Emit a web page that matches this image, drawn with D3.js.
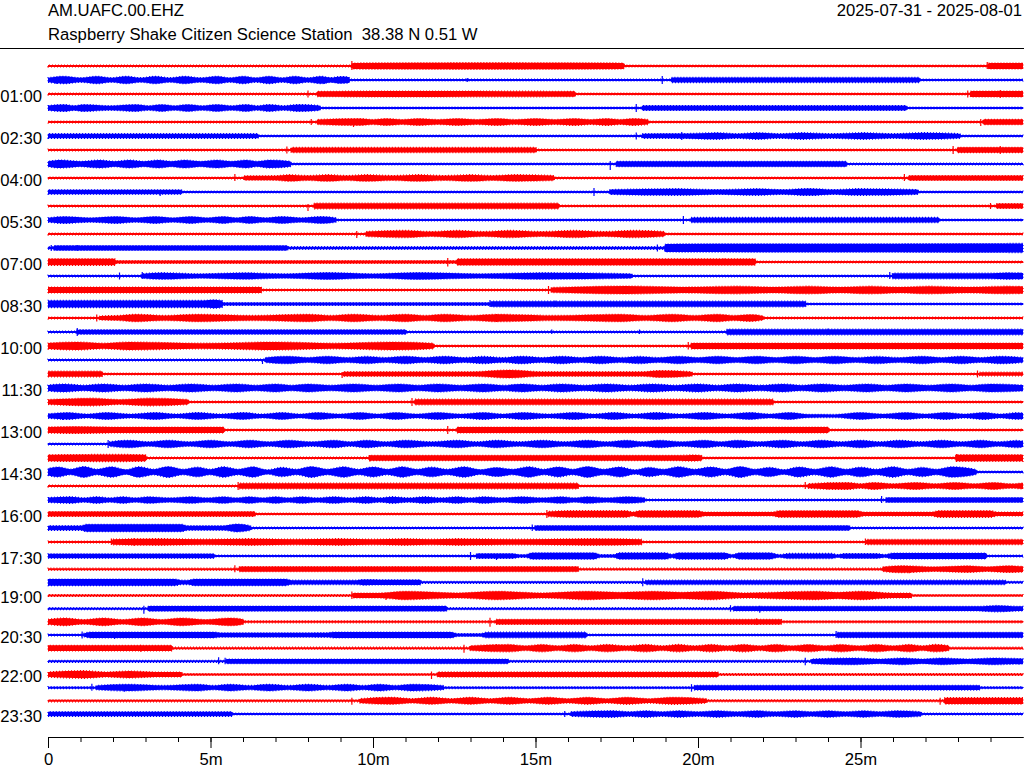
<!DOCTYPE html>
<html>
<head>
<meta charset="utf-8">
<script src="https://cdn.jsdelivr.net/npm/d3@7"></script>
<style>
  body { margin: 0; background: #fff; }
  svg { display: block; }
  text { font-family: 'Liberation Sans', Arial, sans-serif; white-space: pre; }
</style>
</head>
<body>
<div id="vis"></div>
<script>
// station info
var stationCode = 'AM.UAFC.00.EHZ';
var stationName = 'Raspberry Shake Citizen Science Station  38.38 N 0.51 W';
var dateRange = '2025-07-31 - 2025-08-01';

// left labels, one every 3 rows (30 min per row)
var labelRows = [2, 5, 8, 11, 14, 17, 20, 23, 26, 29, 32, 35, 38, 41, 44, 47];
var labelTexts = ['01:00', '02:30', '04:00', '05:30', '07:00', '08:30', '10:00', '11:30',
                  '13:00', '14:30', '16:00', '17:30', '19:00', '20:30', '22:00', '23:30'];

// bottom axis
var majorTicks = [0, 5, 10, 15, 20, 25];
var majorLabels = ['0', '5m', '10m', '15m', '20m', '25m'];
var minorTicks = [0, 1, 2, 3, 4, 5, 6, 7, 8, 9, 10, 11, 12, 13, 14, 15, 16, 17, 18, 19,
                  20, 21, 22, 23, 24, 25, 26, 27, 28, 29];

// envelope of each trace: [minute, half amplitude]
var envelopes = [
  [[0,1],[9.3,1],[9.4,3],[13.5,3.3],[17.7,3],[17.75,1],[28.9,1],[28.95,3],[30,3]],
  [[0,2.3],[0.5,3.7],[1.0,2.3],[1.5,3.7],[1.95,2.3],[2.4,3.7],[2.85,2.3],[3.3,3.7],[3.75,2.3],[4.2,3.7],[4.7,2.3],[5.2,3.7],[5.6,2.3],[6.0,3.7],[6.4,2.3],[6.8,3.7],[7.2,2.3],[7.6,3.7],[8.0,2.3],[8.4,3.7],[8.7,2.4],[9.0,3.5],[9.25,3],[9.3,1],[19.15,1],[19.2,2.6],[26.8,2.6],[26.85,1],[30,1]],
  [[0,1],[8.25,1],[8.3,2.7],[12,2.9],[16.2,2.7],[16.25,1],[28.35,1],[28.4,3],[30,3]],
  [[0,2.4],[0.5,3.5],[0.8,2.4],[1.1,3.5],[1.9,2.3],[2.7,3.5],[3.1,2.3],[3.5,3.5],[3.9,2.3],[4.3,3.5],[4.75,2.3],[5.2,3.5],[5.65,2.3],[6.1,3.5],[6.45,2.3],[6.8,3.5],[7.25,2.3],[7.7,3.5],[8.35,2.4],[8.4,1],[18.25,1],[18.3,2.4],[26.4,2.4],[26.45,1],[30,1]],
  [[0,1],[8.25,1],[8.3,2.5],[9.6,3.5],[10.0,2.5],[10.4,3.5],[10.9,2.5],[11.4,3.5],[12.0,2.5],[12.6,3.5],[13.2,2.5],[13.8,3.5],[14.4,2.5],[15.0,3.5],[15.6,2.5],[16.2,3.5],[16.7,2.5],[17.2,3.5],[17.6,2.5],[18.0,3.4],[18.45,2.6],[18.5,1],[28.75,1],[28.8,2.7],[30,2.7]],
  [[0,2.3],[6.45,2.3],[6.5,1],[18.25,1],[18.3,2.3],[19.5,2.4],[20.6,3.3],[21.2,2.3],[21.8,3.3],[22.5,2.3],[23.2,3.3],[24.1,2.3],[25.1,3.3],[26.0,2.3],[26.9,3.3],[28.05,2.3],[28.1,1],[30,1]],
  [[0,1],[7.45,1],[7.5,2.6],[15.0,2.6],[15.05,1],[27.95,1],[28.0,2.7],[30,2.7]],
  [[0,2.7],[0.4,4],[1.0,2.7],[1.6,4],[2.05,2.7],[2.5,4],[2.95,2.7],[3.4,4],[3.8,2.7],[4.2,4],[4.7,2.7],[5.2,4],[5.65,2.7],[6.1,4],[6.45,2.7],[6.8,4],[7.45,2.7],[7.5,1],[17.45,1],[17.5,2.7],[24.55,2.7],[24.6,1],[30,1]],
  [[0,1],[6.0,1],[6.05,2.2],[7.0,2.3],[7.4,3.3],[8.0,2.5],[8.6,3.3],[9.2,2.5],[9.8,3.3],[10.6,2.5],[11.4,3.3],[12.2,2.5],[13.0,3.3],[13.7,2.5],[14.4,3.3],[15.55,2.5],[15.6,1],[26.45,1],[26.5,2.5],[30,2.5]],
  [[0,2.2],[4.1,2.2],[4.15,1],[17.25,1],[17.3,2.4],[19.4,3.3],[20.6,2.4],[21.8,3.3],[22.6,2.4],[23.4,3.5],[24.2,2.4],[24.9,3.3],[26.75,2.4],[26.8,1],[30,1]],
  [[0,1],[8.15,1],[8.2,2.8],[15.7,2.8],[15.75,1],[29.15,1],[29.2,2.5],[30,2.5]],
  [[0,2.2],[0.5,3.4],[1.3,2.2],[2.1,3.4],[2.7,2.2],[3.3,3.4],[3.85,2.2],[4.4,3.4],[4.9,2.2],[5.4,3.4],[5.8,2.2],[6.2,3.4],[6.7,2.2],[7.2,3.4],[7.8,2.2],[8.4,3.4],[8.85,2.2],[8.9,1],[19.75,1],[19.8,2.6],[27.4,2.6],[27.45,1],[30,1]],
  [[0,1],[9.75,1],[9.8,2.5],[11.0,3.6],[11.8,2.5],[12.6,3.6],[13.4,2.5],[14.2,3.6],[15.2,2.5],[16.2,3.6],[17.1,2.5],[18.0,3.6],[18.95,2.5],[19.0,1],[30,1]],
  [[0,1.2],[0.15,1.2],[0.2,2.5],[7.35,2.5],[7.4,1.3],[18.95,1.3],[19.0,4.0],[24,4.2],[28.5,4.4],[30,4.6]],
  [[0,3.3],[2.05,3.3],[2.1,1.4],[12.55,1.4],[12.6,3.2],[21.75,3.2],[21.8,1],[30,1]],
  [[0,1],[2.85,1],[2.9,2.2],[3.5,3.3],[4.7,2.2],[6.0,3.2],[7.3,2.2],[8.6,3.4],[10.0,2.2],[11.4,3.4],[13.3,2.2],[15.2,3.3],[17.95,2.2],[18.0,1],[25.95,1],[26.0,2.8],[29.0,2.8],[29.5,3.3],[30,2.9]],
  [[0,3],[6.55,3],[6.6,1],[15.45,1],[15.5,2.5],[16.1,3.0],[17.8,4],[19.5,3.0],[21.2,3.8],[22.3,3.0],[23.4,3.8],[24.35,3.0],[25.3,3.8],[26.2,3.0],[27.1,3.8],[28.3,3.0],[29.5,3.8],[30,3.4]],
  [[0,3.6],[4.8,3.6],[5.1,4.2],[5.35,3.6],[5.4,1.5],[13.6,1.4],[13.65,2.8],[23.3,2.8],[23.35,1],[30,1]],
  [[0,1],[1.55,1],[1.6,2.0],[2.2,2.6],[2.7,3.7],[3.6,2.6],[4.6,3.7],[6.3,2.6],[8.0,3.7],[8.7,2.6],[9.4,3.7],[10.2,2.6],[11.0,3.7],[11.6,2.6],[12.2,3.7],[13.0,2.6],[13.8,3.7],[15.7,2.6],[17.6,3.7],[18.4,2.6],[19.2,3.7],[19.9,2.6],[20.6,3.7],[21.1,2.6],[21.6,3.4],[22.0,2.0],[22.05,1],[30,1]],
  [[0,1],[0.85,1],[0.9,2.3],[11.0,2.3],[11.05,1],[20.85,1],[20.9,2.8],[30,2.8]],
  [[0,3.0],[0.9,4],[1.7,2.8],[2.5,4],[4.7,2.8],[7.0,4],[8.8,2.8],[10.6,4],[11.85,2.8],[11.9,1],[19.75,1],[19.8,2.9],[30,2.9]],
  [[0,1],[6.65,1],[6.7,2.5],[7.4,3.7],[8.0,2.5],[8.6,3.7],[9.2,2.5],[9.8,3.6],[10.4,2.5],[11.0,3.7],[11.6,2.5],[12.2,3.7],[12.8,2.5],[13.4,3.6],[14.0,2.5],[14.6,3.7],[15.2,2.5],[15.8,3.7],[16.4,2.5],[17.0,3.7],[17.6,2.5],[18.2,3.6],[18.8,2.5],[19.4,3.7],[20.0,2.5],[20.6,3.7],[21.2,2.5],[21.8,3.7],[22.4,2.5],[23.0,3.7],[23.6,2.5],[24.2,3.7],[24.85,2.5],[25.5,3.6],[26.2,2.5],[26.9,3.7],[27.5,2.5],[28.1,3.7],[28.7,2.5],[29.3,3.7],[30,2.6]],
  [[0,2.8],[1.65,2.8],[1.7,1],[9.05,1],[9.1,2.3],[13.0,2.3],[14.2,4],[15.2,2.3],[18.3,2.3],[18.8,3.5],[19.8,2.3],[19.85,1],[28.6,1],[28.7,1.8],[30,1.8]],
  [[0,3],[0.5,4],[1.1,2.8],[1.7,4],[2.35,2.8],[3.0,4],[3.7,2.8],[4.4,4],[5.1,2.8],[5.8,4],[6.4,2.8],[7.0,4],[7.5,2.8],[8.0,3.9],[8.7,2.8],[9.4,4],[10.1,2.8],[10.8,4],[11.4,2.8],[12.0,4],[12.7,2.8],[13.4,4],[14.0,2.8],[14.6,3.9],[15.2,2.8],[15.8,4],[16.5,2.8],[17.2,4],[17.9,2.8],[18.6,4],[19.3,2.8],[20.0,4],[20.6,2.8],[21.2,3.9],[21.9,2.8],[22.6,4],[23.2,2.8],[23.8,4],[24.5,2.8],[25.2,4],[25.8,2.8],[26.4,3.9],[27.1,2.8],[27.8,4],[28.4,2.8],[29.0,4],[30,3]],
  [[0,2.5],[1.4,3.8],[2.2,2.5],[3.1,3.8],[4.3,2.5],[4.35,1],[11.25,1],[11.3,2.8],[22.3,2.8],[22.35,1],[30,1]],
  [[0,2.2],[0.6,3.4],[1.2,2.0],[1.8,3.4],[2.55,2.0],[3.3,3.4],[3.95,2.0],[4.6,3.4],[5.3,2.0],[6.0,3.4],[6.6,2.0],[7.2,3.4],[7.75,2.0],[8.3,3.4],[8.95,2.0],[9.6,3.4],[10.15,2.0],[10.7,3.4],[11.35,2.0],[12.0,3.4],[12.7,2.0],[13.4,3.4],[14.0,2.0],[14.6,3.4],[15.4,2.0],[16.2,3.4],[16.8,2.0],[17.4,3.4],[18.05,2.0],[18.7,3.4],[19.45,2.0],[20.2,3.4],[20.9,2.0],[21.6,3.4],[22.2,2.0],[22.8,3.4],[23.4,1.7],[24.2,1.6],[25.0,3.4],[25.7,2.0],[26.4,3.4],[27.0,2.0],[27.6,3.4],[28.2,2.0],[28.8,3.4],[29.3,2.0],[29.8,3.3],[30,3]],
  [[0,3.0],[0.8,3.5],[2.0,3.0],[5.4,3.0],[5.45,1],[12.55,1],[12.6,2.9],[24.0,2.9],[24.05,1],[30,1]],
  [[0,1],[1.85,1],[1.9,2.3],[2.5,3.7],[3.1,2.3],[3.7,3.7],[4.35,2.3],[5.0,3.7],[5.6,2.3],[6.2,3.7],[6.8,2.3],[7.4,3.7],[8.1,2.3],[8.8,3.7],[9.3,2.3],[9.8,3.7],[10.4,2.3],[11.0,3.7],[11.8,2.3],[12.6,3.7],[13.2,2.3],[13.8,3.7],[14.5,2.3],[15.2,3.7],[15.9,2.3],[16.6,3.7],[17.2,2.3],[17.8,3.7],[18.3,2.3],[18.8,3.7],[19.5,2.3],[20.2,3.7],[20.7,2.3],[21.2,3.7],[21.9,2.3],[22.6,3.7],[23.2,2.3],[23.8,3.7],[24.4,2.3],[25.0,3.7],[25.6,2.3],[26.2,3.7],[26.85,2.3],[27.5,3.7],[28.1,2.3],[28.7,3.7],[29.25,2.3],[29.8,3.6],[30,3]],
  [[0,3.2],[2.1,3.6],[3.0,3.2],[3.05,1],[9.85,1],[9.9,2.7],[19.4,2.7],[19.8,3.1],[20.1,2.7],[20.15,1],[27.9,1],[27.95,3.3],[30,3.3]],
  [[0,3.5],[0.3,5],[0.7,2.8],[1.1,5.5],[1.5,2.8],[1.95,5.2],[2.4,2.4],[2.8,5.3],[3.25,2.8],[3.7,5.4],[4.15,2.8],[4.6,4.8],[5.0,2.8],[5.4,5.3],[5.85,2.8],[6.3,5.2],[6.75,2.2],[7.2,4.6],[7.65,2.8],[8.1,5.4],[8.6,2.8],[9.1,5.3],[9.55,2.8],[10.0,5],[10.45,2.8],[10.9,5.3],[11.35,2.8],[11.8,4.8],[12.3,2.8],[12.8,5.2],[13.3,2.4],[13.8,4.5],[14.3,2.8],[14.8,5.3],[15.25,2.8],[15.7,5],[16.15,2.8],[16.6,5.4],[17.1,2.8],[17.6,5],[18.05,2.2],[18.5,4.6],[18.95,2.8],[19.4,5.3],[19.9,2.8],[20.4,5],[20.85,2.8],[21.3,5.4],[21.75,2.8],[22.2,4.6],[22.65,2.4],[23.1,5],[23.6,2.8],[24.1,5.3],[24.55,2.8],[25.0,4.8],[25.5,2.8],[26.0,5.3],[26.45,2.8],[26.9,4.6],[27.35,2.8],[27.8,5.2],[28.55,2.6],[28.6,1],[30,1]],
  [[0,1],[5.85,1],[5.9,2.8],[16.3,2.8],[16.35,1],[23.35,1],[23.4,2.3],[24.6,3.5],[25.0,2.3],[25.4,3.5],[26.0,2.3],[26.7,3.5],[27.3,2.3],[27.9,3.5],[28.5,2.3],[29.1,3.5],[29.6,2.3],[30,3.0]],
  [[0,2.4],[0.7,3.3],[1.1,2.2],[1.5,3.3],[1.9,2.2],[2.3,3.3],[2.7,2.2],[3.1,3.3],[3.75,2.2],[4.4,3.3],[4.9,2.2],[5.4,3.3],[5.8,2.2],[6.2,3.3],[6.6,2.2],[7.0,3.3],[7.4,2.2],[7.8,3.3],[8.3,2.2],[8.8,3.3],[9.3,2.2],[9.8,3.3],[10.2,2.2],[10.6,3.3],[11.1,2.2],[11.6,3.3],[12.1,2.2],[12.6,3.3],[13.0,2.2],[13.4,3.3],[14.0,2.2],[14.6,3.3],[15.2,2.2],[15.8,3.3],[16.2,2.2],[16.6,3.3],[17.2,2.2],[17.8,3.3],[18.35,2.2],[18.4,1],[25.75,1],[25.8,2.5],[30,2.5]],
  [[0,2.5],[6.35,2.5],[6.4,1],[15.35,1],[15.4,2.6],[16.0,3.3],[17.8,3.3],[18.0,2.0],[18.2,3.3],[20.0,3.3],[20.2,2.0],[22.3,2.0],[22.5,3.3],[24.9,3.3],[25.1,2.0],[27.2,2.0],[27.4,3.3],[29.0,3.3],[29.2,2.0],[30,2.0]],
  [[0,2.3],[1.0,2.3],[1.2,3.7],[4.1,3.7],[4.3,2.3],[5.4,2.3],[5.8,3.9],[6.2,2.6],[6.3,1],[14.95,1],[15.0,2.4],[24.65,2.4],[24.7,1],[30,1]],
  [[0,1],[1.95,1],[2.0,2.8],[3.5,3.3],[4.8,2.8],[6.2,3.3],[7.6,2.8],[9.0,3.3],[10.0,2.8],[11.0,3.3],[11.8,2.8],[12.6,3.3],[14.6,2.8],[16.6,3.3],[18.25,2.8],[18.3,1],[25.15,1],[25.2,2.6],[30,2.6]],
  [[0,2.2],[5.1,2.2],[5.15,1],[13.15,1],[13.2,2.4],[14.3,2.4],[14.5,1.5],[14.7,1.5],[14.9,3.2],[16.8,3.2],[17.0,1.5],[17.4,1.5],[17.6,3.2],[19.0,3.2],[19.2,1.8],[19.4,3.2],[20.8,3.2],[21.05,1.5],[21.3,3.2],[22.2,3.2],[22.5,1.5],[22.8,2.6],[24.1,2.6],[24.3,1.5],[24.5,2.4],[25.5,2.4],[25.75,1.5],[26.0,3.0],[28.85,3.0],[28.9,1],[30,1]],
  [[0,1],[5.85,1],[5.9,2.6],[16.3,2.6],[16.35,1],[25.65,1],[25.7,2.3],[26.3,3.5],[27.3,2.3],[28.3,3.3],[28.9,2.3],[29.5,3.3],[30,2.8]],
  [[0,3.3],[3.9,3.3],[4.1,2.2],[4.3,2.2],[4.5,3.3],[7.3,3.3],[7.5,2.2],[9.5,2.2],[9.7,2.8],[10.2,2.6],[11.45,2.6],[11.5,1],[18.35,1],[18.4,2.2],[29.45,2.2],[29.5,1],[30,1]],
  [[0,1],[9.35,1],[9.4,2.5],[10.2,2.5],[11.0,4.2],[12.6,2.6],[13.8,4.2],[15.2,2.6],[16.6,4.2],[17.6,3.2],[18.6,4.2],[19.5,3.2],[20.4,4.2],[21.4,2.6],[23.6,4.2],[24.3,3.2],[25.0,4.2],[26.0,2.5],[26.55,2.5],[26.6,1],[30,1]],
  [[0,1],[3.05,1],[3.1,2.6],[12.25,2.6],[12.3,1],[21.05,1],[21.1,2.3],[28.6,2.3],[29.2,3.2],[29.7,2.5],[30,2.3]],
  [[0,2.6],[0.5,3.8],[1.1,2.3],[1.7,3.8],[2.3,2.3],[2.9,3.8],[3.5,2.3],[4.1,3.8],[4.85,2.3],[5.6,3.8],[6.0,2.6],[6.05,1],[13.75,1],[13.8,2.6],[22.55,2.6],[22.6,1],[30,1]],
  [[0,1],[1.05,1],[1.1,1.6],[1.3,2.9],[5.1,2.9],[5.3,2.2],[8.6,2.3],[8.8,2.9],[12.4,2.9],[12.6,1.5],[13.3,1.5],[13.5,2.8],[16.55,2.8],[16.6,1],[24.25,1],[24.3,2.7],[30,2.7]],
  [[0,2.8],[3.8,2.8],[3.85,1],[12.95,1],[13.0,2.4],[14.2,3.7],[14.7,2.4],[15.2,3.7],[15.7,2.4],[16.2,3.7],[16.7,2.4],[17.2,3.7],[17.8,2.4],[18.4,3.7],[18.9,2.4],[19.4,3.7],[19.9,2.4],[20.4,3.7],[20.9,2.4],[21.4,3.7],[21.9,2.4],[22.4,3.7],[22.9,2.4],[23.4,3.7],[23.9,2.4],[24.4,3.7],[24.95,2.4],[25.5,3.7],[26.0,2.4],[26.5,3.7],[26.9,2.4],[27.3,3.7],[27.7,2.6],[27.75,1],[30,1]],
  [[0,1],[5.45,1],[5.5,2.3],[14.15,2.3],[14.2,1],[23.45,1],[23.5,2.3],[24.8,3.3],[25.6,2.3],[26.3,3.3],[26.9,2.3],[27.5,3.3],[28.3,2.3],[29.1,3.3],[30,2.6]],
  [[0,2.6],[1.1,3.8],[1.8,2.5],[2.5,3.5],[3.3,2.5],[4.1,2.5],[4.15,1],[11.95,1],[12.0,2.6],[20.6,2.6],[20.65,1],[30,1]],
  [[0,1],[1.45,1],[1.5,2.2],[2.5,3.3],[3.55,2.2],[4.6,3.3],[5.1,2.2],[5.6,3.3],[6.2,2.2],[6.8,3.3],[7.4,2.2],[8.0,3.3],[8.6,2.2],[9.2,3.3],[9.7,2.2],[10.2,3.3],[10.7,2.2],[11.2,3.3],[12.15,2.2],[12.2,1],[19.85,1],[19.9,2.4],[28.65,2.4],[28.7,1],[30,1]],
  [[0,1],[9.55,1],[9.6,2.2],[10.6,3.5],[11.2,2.2],[11.8,3.5],[12.4,2.2],[13.0,3.5],[13.6,2.2],[14.2,3.5],[14.8,2.2],[15.4,3.5],[16.0,2.2],[16.6,3.5],[17.2,2.2],[17.8,3.5],[18.5,2.2],[19.2,3.5],[20.25,2.2],[20.3,1],[27.55,1],[27.6,3.2],[30,3.2]],
  [[0,2.3],[5.65,2.3],[5.7,1],[16.05,1],[16.1,2.3],[17.4,3.3],[17.9,2.3],[18.4,3.3],[18.9,2.3],[19.4,3.3],[20.0,2.3],[20.6,3.3],[21.2,2.3],[21.8,3.3],[22.4,2.3],[23.0,3.3],[23.5,2.3],[24.0,3.3],[24.55,2.3],[25.1,3.3],[25.6,2.3],[26.1,3.3],[26.85,2.3],[26.9,1],[30,1]]
];

// isolated spikes: [row, minute, up, down]
var spikes = [
  [0,9.35,5,4],[0,28.9,4,3],[0,17.0,1,3],
  [1,0.25,3,4],[1,8.5,3,4],[1,12.9,2,2],[1,18.9,4,4],
  [2,8.0,3.5,3.5],[2,28.3,3.5,3.5],[2,29.3,4,4],
  [3,18.1,4,4],
  [4,8.1,3,3],[4,9.4,3,5],[4,28.7,3,4],
  [5,18.1,3.5,3.5],[5,19.5,4,4],
  [6,7.35,3.5,3.5],[6,27.85,4,4],[6,29.3,4,4],
  [7,17.3,3,6],
  [8,5.75,4,3],[8,26.35,4,3],
  [9,3.45,2,4],[9,16.8,4,4],
  [10,8.0,2,5],[10,29.0,3,3],
  [11,0.3,3.5,3.5],[11,19.55,4,4],
  [12,9.5,3,4],
  [13,0.1,3,3],[13,0.9,3,3],[13,18.75,3.5,3.5],
  [14,12.3,4,4.5],[14,20.8,3.5,2],
  [15,2.2,3.5,3.5],[15,2.9,4,3],[15,25.9,4,3],
  [16,15.4,4,4],
  [17,13.6,4,3],[17,15.6,3.5,3],
  [18,1.5,3.5,3.5],[18,13.8,4,4],
  [19,0.9,4,4],[19,15.5,2.5,2],[19,18.2,2.5,2],[19,24.0,3.5,3],
  [20,19.7,4,3.5],
  [21,6.6,1,4],
  [22,9.05,2,4],[22,28.6,3.5,3.5],
  [24,11.2,4,4],
  [25,0.45,3,4],
  [26,12.3,4,4],
  [27,1.85,4,4],
  [28,9.9,3,3.5],[28,27.95,4,4],
  [30,5.85,4,4],[30,23.3,4,3],[30,24.0,3.5,3.5],
  [31,25.65,4,3],
  [32,15.35,4,4],
  [33,14.9,3.5,3],
  [34,1.95,3.5,3],[34,2.65,4,4],[34,25.15,3.5,3],
  [35,13.0,4,4],[35,13.8,2,4],
  [36,5.75,4,3],[36,26.5,2,4],
  [37,18.3,4,4],
  [38,9.35,4,3.5],[38,10.4,3,4.5],
  [39,2.95,3,5],[39,21.0,3.5,3],[39,21.9,3,4],
  [40,13.6,4,5],[40,21.8,3.5,3],
  [41,1.05,3.5,3.5],[41,2.05,3,4],[41,24.25,4,3],
  [42,2.85,3.5,3.5],[42,12.8,3.5,4.5],[42,13.8,4,3],
  [43,5.25,4,3],[43,5.45,3.5,3],[43,23.3,3.5,4],
  [44,11.8,3,4.5],
  [45,1.35,4,3],[45,2.35,3,4],[45,19.8,3.5,4],
  [46,9.35,3,4],[46,10.5,3.5,3],[46,27.45,3,4],
  [47,15.9,3,3],[47,17.05,3,3.5]
];

var traceColors = ['#ff0000', '#0000ff'];

var width = 1024;
var height = 768;
var fontSize = '16.67px';

var svg = d3.select('#vis')
  .append('svg')
  .attr('width', width)
  .attr('height', height);

var x = d3.scaleLinear().domain([0, 30]).range([48, 1023]);
// row centres (the bottom rows sit a little closer together)
var rowY = d3.scaleLinear().domain([0, 35, 47]).range([66, 556, 714]);
var amp = d3.scaleLinear().domain([0, 1]).range([0, 1]);

// header
svg.append('text')
  .attr('x', 48).attr('y', 16)
  .style('font-size', fontSize)
  .text(stationCode);
svg.append('text')
  .attr('x', 48).attr('y', 40)
  .style('font-size', fontSize)
  .text(stationName);
svg.append('text')
  .attr('x', 1022).attr('y', 16)
  .attr('text-anchor', 'end')
  .style('font-size', fontSize)
  .text(dateRange);
svg.append('line')
  .attr('x1', 0).attr('x2', width)
  .attr('y1', 48.5).attr('y2', 48.5)
  .attr('stroke', '#000')
  .attr('stroke-width', 1);

// traces
var traces = svg.append('g').attr('class', 'traces');

envelopes.forEach(function (knots, i) {
  var cy = rowY(i);
  var area = d3.area()
    .curve(d3.curveMonotoneX)
    .x(function (d) { return x(d[0]); })
    .y0(function (d) { return cy - amp(d[1]); })
    .y1(function (d) { return cy + amp(d[1]); });

  traces.append('path')
    .attr('d', area(knots))
    .attr('fill', traceColors[i % 2]);

  // dashed outline gives the ragged, noisy edge of a raw trace
  traces.append('path')
    .attr('d', area(knots))
    .attr('fill', 'none')
    .attr('stroke', traceColors[i % 2])
    .attr('stroke-width', 1.2)
    .attr('stroke-dasharray', '1 2');
});

traces.selectAll('.spike')
  .data(spikes)
  .enter().append('line')
  .attr('class', 'spike')
  .attr('x1', function (d) { return x(d[1]); })
  .attr('x2', function (d) { return x(d[1]); })
  .attr('y1', function (d) { return rowY(d[0]) - amp(d[2]); })
  .attr('y2', function (d) { return rowY(d[0]) + amp(d[3]); })
  .attr('stroke', function (d) { return traceColors[d[0] % 2]; })
  .attr('stroke-width', 1.2);

// time labels on the left
svg.selectAll('.rowlabel')
  .data(labelRows)
  .enter().append('text')
  .attr('class', 'rowlabel')
  .attr('x', 42)
  .attr('y', function (d) { return rowY(d) + 7.5; })
  .attr('text-anchor', 'end')
  .style('font-size', fontSize)
  .text(function (d, i) { return labelTexts[i]; });

// bottom axis: minor ticks every minute, labelled ticks every 5
var minorAxis = d3.axisBottom(x)
  .tickValues(minorTicks)
  .tickSize(5)
  .tickSizeOuter(0)
  .tickFormat('');

var majorAxis = d3.axisBottom(x)
  .tickValues(majorTicks)
  .tickSize(11)
  .tickSizeOuter(0)
  .tickPadding(5)
  .tickFormat(function (d, i) { return majorLabels[i]; });

svg.append('g')
  .attr('transform', 'translate(0,737)')
  .call(minorAxis);

var gx = svg.append('g')
  .attr('transform', 'translate(0,737)')
  .call(majorAxis);

gx.selectAll('text')
  .style('font-size', fontSize)
  .style('font-family', "'Liberation Sans', Arial, sans-serif")
  .attr('fill', '#000');
svg.selectAll('.domain, .tick line').attr('stroke', '#000');
</script>
</body>
</html>
